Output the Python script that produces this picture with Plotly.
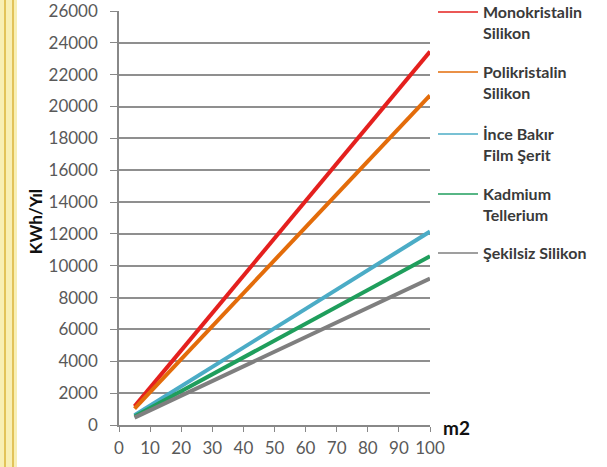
import plotly.graph_objects as go

# Data
area_m2 = [5, 100]
series_names = ["Monokristalin<br>Silikon", "Polikristalin<br>Silikon", "İnce Bakır<br>Film Şerit",
                "Kadmium<br>Tellerium", "Şekilsiz Silikon"]
mono = [1170, 23450]
poli = [1035, 20700]
ince = [610, 12150]
kadmium = [530, 10600]
sekilsiz = [460, 9200]
series_values = [mono, poli, ince, kadmium, sekilsiz]
x_ticks = [0, 10, 20, 30, 40, 50, 60, 70, 80, 90, 100]
y_ticks = list(range(0, 26001, 2000))
y_tick_labels = [str(v) for v in y_ticks]

colors = ["#E4201E", "#E36C0A", "#4BACC6", "#1F9E5C", "#7F7F7F"]

W, H = 607, 467
L, R, T, B = 119, 177, 11, 42
pw = W - L - R
ph = H - T - B

def px_to_paper(px):
    return (px - L) / pw

def py_to_paper(py):
    return (H - B - py) / ph

fig = go.Figure()
for name, vals, c in zip(series_names, series_values, colors):
    fig.add_trace(go.Scatter(x=area_m2, y=vals, mode="lines", line=dict(color=c, width=4),
                             showlegend=False, hoverinfo="skip"))

legend_ids = ["legend", "legend2", "legend3", "legend4", "legend5"]
legend_line_y = [11, 71, 133, 193, 252]
for i, (name, c) in enumerate(zip(series_names, colors)):
    fig.add_trace(go.Scatter(x=[None], y=[None], mode="lines", name=name,
                             line=dict(color=c, width=1.5), legend=legend_ids[i]))

shapes = [
    dict(type="rect", xref="paper", yref="paper", x0=px_to_paper(0), x1=px_to_paper(17),
         y0=py_to_paper(H), y1=py_to_paper(0), fillcolor="#F8EFB4", line=dict(width=0), layer="below"),
]
for xp in (5, 13):
    shapes.append(dict(type="line", xref="paper", yref="paper", x0=px_to_paper(xp), x1=px_to_paper(xp),
                       y0=py_to_paper(H), y1=py_to_paper(0), line=dict(color="#E2C35A", width=2)))

layout_legends = {}
for i, lid in enumerate(legend_ids):
    layout_legends[lid] = dict(x=px_to_paper(433), xanchor="left", y=py_to_paper(legend_line_y[i] - 16),
                               yanchor="top", valign="top", itemwidth=40,
                               font=dict(family="Lato", size=16, color="#3A3A3A", weight="bold"),
                               bgcolor="rgba(0,0,0,0)")

fig.update_layout(
    width=W, height=H,
    margin=dict(l=L, r=R, t=T, b=B, autoexpand=False),
    paper_bgcolor="white", plot_bgcolor="white",
    font=dict(family="Lato", color="#595959", size=16),
    xaxis=dict(range=[0, 100], tickvals=x_ticks, ticktext=[str(v) for v in x_ticks],
               ticks="outside", ticklen=5, tickcolor="#888888",
               showline=True, linecolor="#888888", linewidth=1.5, showgrid=False, zeroline=False,
               ticklabelstandoff=2, ticklabeloverflow="allow",
               tickfont=dict(size=17, color="#595959")),
    yaxis=dict(range=[0, 26000], tickvals=y_ticks, ticktext=y_tick_labels,
               ticks="outside", ticklen=7, tickcolor="#888888",
               showline=True, linecolor="#888888", linewidth=1.5, showgrid=True, gridcolor="#8F8F8F",
               gridwidth=1.5, zeroline=False, ticklabelstandoff=9, ticklabeloverflow="allow",
               tickfont=dict(size=17, color="#595959")),
    shapes=shapes,
    annotations=[
        dict(text="<b>KWh/Yıl</b>", xref="paper", yref="paper", x=px_to_paper(35), y=0.49,
             xanchor="center", yanchor="middle",
             textangle=-90, showarrow=False, font=dict(family="Lato", size=17, color="#111111")),
        dict(text="<b>m2</b>", xref="paper", yref="paper", x=px_to_paper(441), y=py_to_paper(427),
             xanchor="left", yanchor="middle", showarrow=False,
             font=dict(family="Lato", size=19, color="#111111")),
    ],
    **layout_legends,
)

fig.write_html("out.html", config={"displayModeBar": False},
               post_script="document.body.style.margin='0';")
